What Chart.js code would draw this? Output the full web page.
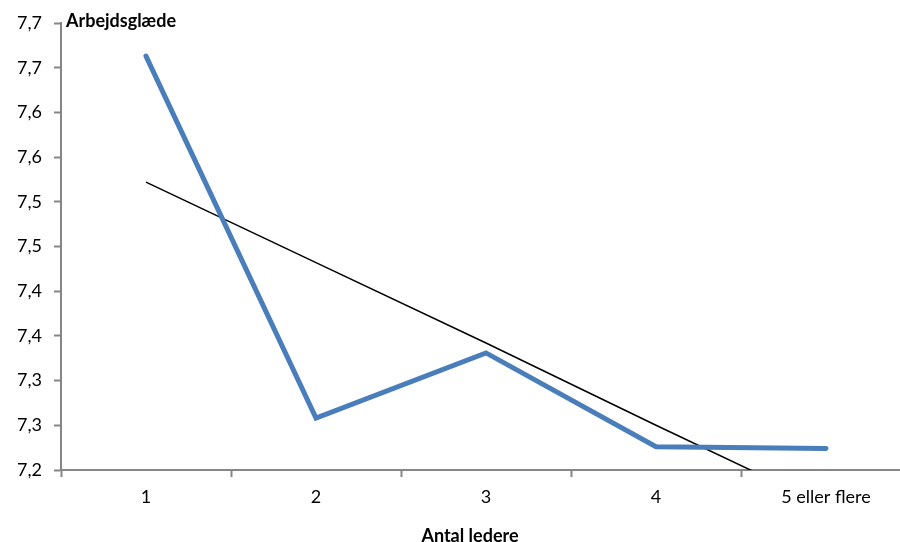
<!DOCTYPE html>
<html>
<head>
<meta charset="utf-8">
<script src="https://cdn.jsdelivr.net/npm/chart.js@4/dist/chart.umd.min.js"></script>
<style>
  html, body { margin: 0; padding: 0; background: #fff; overflow: hidden; }
  .wrap { width: 900px; height: 542px; overflow: hidden; position: relative; }
  .box { width: 920px; height: 542px; position: absolute; left: 0; top: 0; }
</style>
</head>
<body>
<div class="wrap"><div class="box"><canvas id="chart"></canvas></div></div>
<script>
// data
const categories = ['1', '2', '3', '4', '5 eller flere']
const satisfaction = [7.663, 7.258, 7.331, 7.226, 7.224]
const trend = [7.522, 7.432, 7.342, 7.250, 7.160]
const yTitle = 'Arbejdsglæde'
const xTitle = 'Antal ledere'

const FONT = 'Lato, "Open Sans", sans-serif'
const AXIS = '#868686'

// Excel style rounding: 7.25 -> 7,3 and 7.35 -> 7,4
const fmt = (v) => (Math.round(Math.round(v * 100) / 10) / 10).toFixed(1).replace('.', ',')

const titles = {
  id: 'titles',
  afterDraw(chart) {
    const { ctx, chartArea } = chart
    ctx.save()
    ctx.fillStyle = '#000'
    ctx.font = `bold 18px ${FONT}`
    ctx.textBaseline = 'alphabetic'
    ctx.textAlign = 'left'
    ctx.fillText(yTitle, chartArea.left + 5, 27)
    ctx.textAlign = 'center'
    ctx.fillText(xTitle, 470, 542)
    ctx.restore()
  },
}

new Chart(document.getElementById('chart'), {
  type: 'line',
  data: {
    labels: categories,
    datasets: [
      {
        data: satisfaction,
        borderColor: '#4A7EBB',
        borderWidth: 5,
        borderCapStyle: 'round',
        pointRadius: 0,
        tension: 0,
      },
      {
        data: trend,
        borderColor: '#000',
        borderWidth: 1.5,
        pointRadius: 0,
        tension: 0,
      },
    ],
  },
  options: {
    responsive: true,
    maintainAspectRatio: false,
    animation: false,
    layout: { padding: { top: 23, right: 9, left: 0, bottom: 0 } },
    plugins: { legend: { display: false }, tooltip: { enabled: false } },
    scales: {
      x: {
        offset: true,
        grid: { offset: true, drawOnChartArea: false, tickLength: 7, tickWidth: 2, tickColor: AXIS },
        border: { color: AXIS, width: 2 },
        ticks: { color: '#000', font: { family: FONT, size: 18 }, padding: 9, maxRotation: 0 },
        afterFit: (scale) => { scale.height = 72 },
      },
      y: {
        min: 7.2,
        max: 7.7,
        grid: { drawOnChartArea: false, tickLength: 7, tickWidth: 2, tickColor: AXIS },
        border: { color: AXIS, width: 2 },
        ticks: { stepSize: 0.05, color: '#000', font: { family: FONT, size: 18 }, padding: 12, callback: (v) => fmt(v) },
        afterFit: (scale) => { scale.width = 61 },
      },
    },
  },
  plugins: [titles],
})
</script>
</body>
</html>
